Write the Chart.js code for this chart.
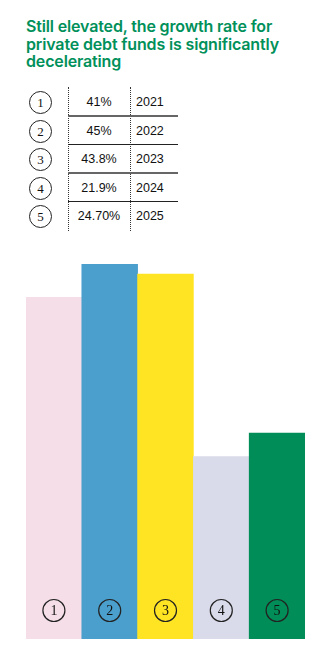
<!DOCTYPE html>
<html>
<head>
<meta charset="utf-8">
<script src="https://cdn.jsdelivr.net/npm/chart.js@4"></script>
<style>
  body { margin: 0; width: 323px; height: 660px; background: #fff; position: relative; overflow: hidden; }
  #title { position: absolute; left: 26px; top: 18px; width: 295px; font-family: Inter, "Noto Sans", sans-serif; font-weight: 600; font-size: 16px; line-height: 17.5px; color: #00905a; letter-spacing: -0.15px; }
  #table { position: absolute; left: 0; top: 87px; }
  .row { position: absolute; left: 0; height: 29px; width: 180px; font-family: "Liberation Sans", Arial, sans-serif; font-size: 12.5px; color: #111; }
  .circ { position: absolute; left: 29px; width: 21px; height: 21px; border: 1px solid #222; border-radius: 50%; text-align: center; line-height: 22px; font-family: "Liberation Serif", "DejaVu Serif", serif; font-size: 13px; }
  .val { position: absolute; left: 68px; width: 62px; text-align: center; }
  .yr { position: absolute; left: 136px; }
  .vline { position: absolute; top: 0; height: 144px; border-left: 1px dotted #333; }
  .hline { position: absolute; left: 68px; width: 110px; height: 0; }
  #wrap { position: absolute; left: 0; top: 220px; width: 323px; height: 440px; }
</style>
</head>
<body>
<div id="title">Still elevated, the growth rate for private debt funds is significantly decelerating</div>
<div id="table"></div>
<div id="wrap"><canvas id="chart"></canvas></div>
<script>
const labels = ['1', '2', '3', '4', '5'];
const values = [41, 45, 43.8, 21.9, 24.7];
const valueLabels = ['41%', '45%', '43.8%', '21.9%', '24.70%'];
const years = ['2021', '2022', '2023', '2024', '2025'];
const colors = ['#f5dee7', '#4b9fcd', '#ffe423', '#d9daea', '#008d57'];

// table above the chart
const table = document.getElementById('table');
let html = '<div class="vline" style="left:68px"></div><div class="vline" style="left:130px"></div>';
labels.forEach((l, i) => {
  const top = i * 28.6;
  html += '<div class="row" style="top:' + top + 'px">' +
    '<div class="circ" style="top:4px">' + l + '</div>' +
    '<div class="val" style="top:8px">' + valueLabels[i] + '</div>' +
    '<div class="yr" style="top:8px">' + years[i] + '</div></div>';
  if (i < labels.length - 1) {
    const heavy = (i % 2 === 0);
    html += '<div class="hline" style="top:' + (top + 28) + 'px;border-top:' + (heavy ? '2px solid #666' : '1px solid #222') + '"></div>';
  }
});
table.innerHTML = html;

// circled numbers near the bottom of each bar
const circledLabels = {
  id: 'circledLabels',
  afterDatasetsDraw(chart) {
    const ctx = chart.ctx;
    const meta = chart.getDatasetMeta(0);
    ctx.save();
    meta.data.forEach((bar, i) => {
      const y = chart.chartArea.bottom - 28.5;
      ctx.beginPath();
      ctx.arc(bar.x, y, 11, 0, Math.PI * 2);
      ctx.lineWidth = 1.2;
      ctx.strokeStyle = '#222';
      ctx.stroke();
      ctx.fillStyle = '#111';
      ctx.font = '14px "Liberation Serif", "DejaVu Serif", serif';
      ctx.textAlign = 'center';
      ctx.textBaseline = 'middle';
      ctx.fillText(labels[i], bar.x, y + 1);
    });
    ctx.restore();
  }
};

new Chart(document.getElementById('chart'), {
  type: 'bar',
  data: {
    labels: labels,
    datasets: [{
      data: values,
      backgroundColor: colors,
      borderWidth: 0,
      barPercentage: 1,
      categoryPercentage: 1
    }]
  },
  options: {
    responsive: true,
    maintainAspectRatio: false,
    animation: false,
    layout: { padding: { left: 26, right: 18, top: 44, bottom: 21 } },
    plugins: { legend: { display: false }, tooltip: { enabled: false } },
    scales: {
      x: { display: false },
      y: { display: false, min: 0, max: 45 }
    }
  },
  plugins: [circledLabels]
});
</script>
</body>
</html>
